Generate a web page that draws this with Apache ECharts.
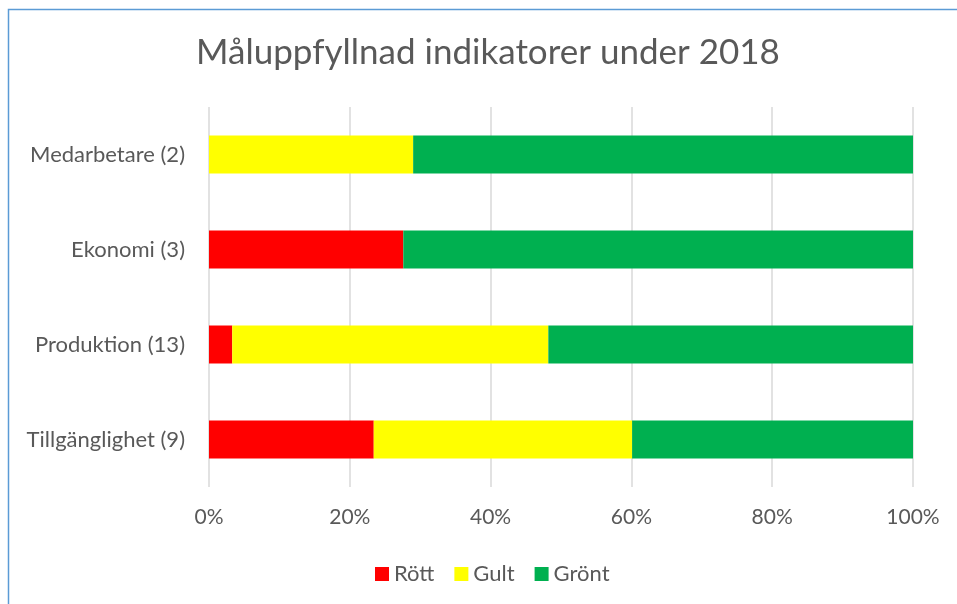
<!DOCTYPE html>
<html>
<head>
<meta charset="utf-8">
<script src="https://cdn.jsdelivr.net/npm/echarts@6/dist/echarts.min.js"></script>
<style>html,body{margin:0;padding:0;background:#fff}#c{width:957px;height:604px}</style>
</head>
<body>
<div id="c"></div>
<script>
const categories = ['Medarbetare (2)', 'Ekonomi (3)', 'Produktion (13)', 'Tillgänglighet (9)'];
const rott  = [0, 27.6, 3.3, 23.4];
const gult  = [29.0, 0, 44.9, 36.7];
const gront = [71.0, 72.4, 51.8, 39.9];
const xTicks = [0, 20, 40, 60, 80, 100];
const seriesNames = ['Rött', 'Gult', 'Grönt'];
const colors = ['#ff0000', '#ffff00', '#00b050'];

const chart = echarts.init(document.getElementById('c'));
const font = 'Lato, "Open Sans", sans-serif';
chart.setOption({
  animation: false,
  textStyle: { fontFamily: font },
  title: {
    text: 'Måluppfyllnad indikatorer under 2018',
    left: 483, top: 30, textAlign: 'center',
    textStyle: { fontSize: 35, fontWeight: 'normal', color: '#595959', fontFamily: font }
  },
  graphic: [{
    type: 'rect', shape: { x: 8.5, y: 9.5, width: 980, height: 640 },
    style: { fill: 'none', stroke: '#5b9bd5', lineWidth: 1.5 }, silent: true
  }],
  legend: {
    data: seriesNames, left: 375, top: 563, padding: 0,
    itemWidth: 14, itemHeight: 14, itemGap: 20,
    icon: 'rect',
    textStyle: { fontSize: 22, color: '#595959', fontFamily: font }
  },
  grid: { left: 209, right: 44, top: 107, height: 380, containLabel: false },
  xAxis: {
    type: 'value', min: 0, max: 100, interval: 20,
    axisLine: { show: false }, axisTick: { show: false },
    splitLine: { lineStyle: { color: '#d9d9d9', width: 1.5 } },
    axisLabel: { formatter: v => xTicks.includes(v) ? v + '%' : '', fontSize: 21, color: '#595959', margin: 20 }
  },
  yAxis: {
    type: 'category', inverse: true, data: categories,
    axisLine: { show: false }, axisTick: { show: false },
    axisLabel: { fontSize: 22, color: '#595959', margin: 24 }
  },
  series: [rott, gult, gront].map((d, i) => ({
    name: seriesNames[i], type: 'bar', stack: 'all', data: d,
    barWidth: 38, itemStyle: { color: colors[i] }
  }))
});
</script>
</body>
</html>
